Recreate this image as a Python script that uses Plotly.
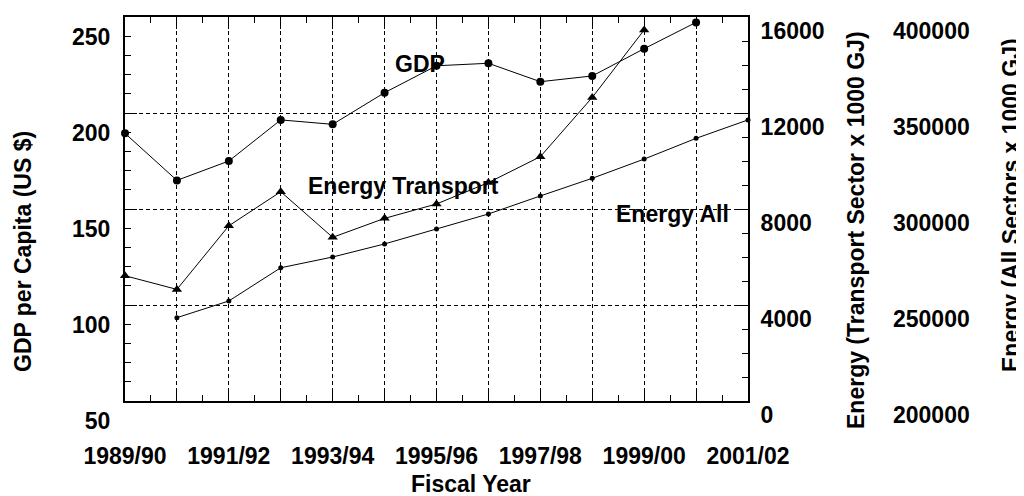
import plotly.graph_objects as go

# ---------------- data ----------------
years = ["1989/90", "1990/91", "1991/92", "1992/93", "1993/94", "1994/95", "1995/96",
         "1996/97", "1997/98", "1998/99", "1999/00", "2000/01", "2001/02"]
x_idx = list(range(len(years)))
tick_text = [y if i % 2 == 0 else "" for i, y in enumerate(years)]

gdp = [189.4, 164.9, 175.0, 196.4, 194.1, 210.6, 224.6, 225.9, 216.3, 219.3, 233.5, 247.2, None]
energy_transport = [5220, 4650, 7300, 8720, 6820, 7610, 8210, 9100, 10180, 12650, 15460, None, None]
energy_all = [None, 243400, 252100, 269400, 275000, 281800, 289600, 297400, 306800,
              316000, 326000, 336800, 346400]

gdp_ticks = [50, 100, 150, 200, 250]
transport_ticks = [0, 4000, 8000, 12000, 16000]
all_ticks = [200000, 250000, 300000, 350000, 400000]

# ---------------- layout geometry (screen pixels) ----------------
OFF = 8                      # default page body margin
W, H = 1024 - OFF, 496 - OFF
L, R_EDGE, T, B = 125, 748, 17, 401
MR = 2
ML, MT, MB = L - OFF, T - OFF, H - (B - OFF)
PW = W - ML - MR
PH = B - T


def px(p):
    return (p - L) / PW


def py(p):
    return (B - p) / PH


FONT = "Liberation Sans, Arial, sans-serif"
FS = 23

fig = go.Figure()
fig.add_trace(go.Scatter(x=x_idx, y=gdp, mode="lines+markers", name="GDP",
                         line=dict(color="black", width=1),
                         marker=dict(symbol="circle", size=8, color="black"),
                         yaxis="y", cliponaxis=False))
fig.add_trace(go.Scatter(x=x_idx, y=energy_transport, mode="lines+markers", name="Energy Transport",
                         line=dict(color="black", width=1),
                         marker=dict(symbol="triangle-up", size=9, color="black"),
                         yaxis="y2", cliponaxis=False))
fig.add_trace(go.Scatter(x=x_idx, y=energy_all, mode="lines+markers", name="Energy All",
                         line=dict(color="black", width=1),
                         marker=dict(symbol="circle", size=5, color="black"),
                         yaxis="y3", cliponaxis=False))

grid = dict(showgrid=True, gridcolor="black", gridwidth=1, griddash="4px,3px")

fig.update_layout(
    width=W, height=H,
    margin=dict(l=ML, r=MR, t=MT, b=MB, pad=0, autoexpand=False),
    paper_bgcolor="white", plot_bgcolor="white",
    showlegend=False,
    font=dict(family=FONT, size=FS, color="black", weight="bold"),
    xaxis=dict(domain=[0, (R_EDGE - L) / PW], range=[0, 12], automargin=False,
               tickmode="array", tickvals=x_idx, ticktext=tick_text,
               ticks="inside", ticklen=12, tickwidth=1, tickcolor="black",
               minor=dict(dtick=0.5, tick0=0, ticks="inside", ticklen=6,
                          tickwidth=1, tickcolor="black", showgrid=False),
               showline=True, linewidth=2, linecolor="black", mirror="ticks",
               zeroline=False, ticklabelstandoff=33, **grid),
    yaxis=dict(range=[50, 250], tickmode="array", tickvals=gdp_ticks,
               ticktext=[str(v) for v in gdp_ticks], automargin=False,
               ticks="inside", ticklen=12, tickwidth=1, tickcolor="black",
               minor=dict(dtick=10, tick0=50, ticks="inside", ticklen=6,
                          tickwidth=1, tickcolor="black", showgrid=False),
               showline=True, linewidth=2, linecolor="black",
               zeroline=False, ticklabelstandoff=8, ticklabelshift=20, **grid),
    yaxis2=dict(range=[0, 16000], tickmode="array", tickvals=transport_ticks,
                ticktext=[str(v) for v in transport_ticks], overlaying="y", side="right",
                anchor="x", automargin=False,
                ticks="inside", ticklen=12, tickwidth=1, tickcolor="black",
                minor=dict(dtick=1000, tick0=0, ticks="inside", ticklen=6,
                           tickwidth=1, tickcolor="black", showgrid=False),
                showline=True, linewidth=2, linecolor="black", showgrid=False,
                zeroline=False, ticklabelstandoff=6, ticklabelshift=14),
    yaxis3=dict(range=[200000, 400000], tickmode="array", tickvals=all_ticks,
                ticktext=[str(v) for v in all_ticks], overlaying="y", side="right",
                anchor="free", position=px(892), automargin=False,
                ticks="", showline=False, showgrid=False,
                zeroline=False, ticklabelshift=14),
)

ann = dict(xref="paper", yref="paper", showarrow=False,
           font=dict(family=FONT, size=FS, color="black", weight="bold"))
fig.add_annotation(text="GDP", x=px(420), y=py(64), xanchor="center", yanchor="middle", **ann)
fig.add_annotation(text="Energy Transport", x=px(403), y=py(186), xanchor="center", yanchor="middle", **ann)
fig.add_annotation(text="Energy All", x=px(672), y=py(214), xanchor="center", yanchor="middle", **ann)
fig.add_annotation(text="Fiscal Year", x=px(471), y=py(484), xanchor="center", yanchor="middle", **ann)
fig.add_annotation(text="GDP per Capita (US $)", x=px(23), y=py(252), textangle=-90,
                   xanchor="center", yanchor="middle", **ann)
fig.add_annotation(text="Energy (Transport Sector x 1000 GJ)", x=px(856), y=py(230), textangle=-90,
                   xanchor="center", yanchor="middle", **ann)
fig.add_annotation(text="Energy (All Sectors x 1000 GJ)", x=px(1011), y=py(205), textangle=-90,
                   xanchor="center", yanchor="middle", **ann)

fig.write_html("out.html")
